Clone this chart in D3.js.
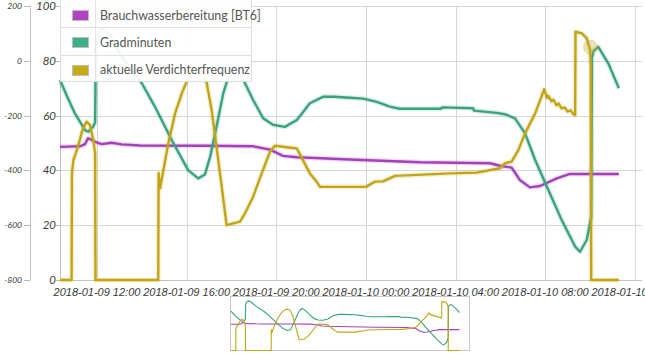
<!DOCTYPE html>
<html>
<head>
<meta charset="utf-8">
<script src="https://cdn.jsdelivr.net/npm/d3@7/dist/d3.min.js"></script>
<style>
  body { margin: 0; background: #fff; }
  svg { display: block; }
  .lbl { font-family: Lato, "Liberation Sans", sans-serif; font-style: italic; fill: #3a3a3a; }
  .xlbl { font-family: "Liberation Sans", Arial, sans-serif; font-style: italic; fill: #3a3a3a; }
  .legend-text { font-family: Lato, "Liberation Sans", sans-serif; font-size: 12.4px; fill: #555; }
</style>
</head>
<body>
<svg id="chart" width="645" height="354"></svg>
<script>
const parse = d3.timeParse("%Y-%m-%d %H:%M");

const timeRange = ["2018-01-09 10:21", "2018-01-10 12:19"];
const innerTicks = [0, 20, 40, 60, 80, 100];
const outerTicks = [-800, -600, -400, -200, 0, 200];
const seriesNames = ["Brauchwasserbereitung [BT6]", "Gradminuten", "aktuelle Verdichterfrequenz"];
const seriesColors = ["#a441b8", "#3aa283", "#c2a516"];
const swatchColors = ["#b043c2", "#3fae8c", "#c9ab12"];

const brauchwasser = [
  ["2018-01-09 10:21", 48.6], ["2018-01-09 11:14", 48.8], ["2018-01-09 11:28", 49.6],
  ["2018-01-09 11:36", 51.7], ["2018-01-09 11:45", 51.2], ["2018-01-09 11:55", 50.4],
  ["2018-01-09 12:13", 49.6], ["2018-01-09 12:39", 50.1], ["2018-01-09 13:06", 49.5],
  ["2018-01-09 13:55", 49.1], ["2018-01-09 16:49", 49.0], ["2018-01-09 18:58", 48.8],
  ["2018-01-09 19:43", 47.6], ["2018-01-09 20:18", 45.3], ["2018-01-09 20:55", 44.8],
  ["2018-01-09 23:17", 44.0], ["2018-01-10 02:25", 43.0], ["2018-01-10 05:32", 42.6],
  ["2018-01-10 05:59", 41.7], ["2018-01-10 06:30", 41.0], ["2018-01-10 06:52", 36.5],
  ["2018-01-10 07:19", 33.8], ["2018-01-10 07:46", 34.3], ["2018-01-10 08:31", 37.1],
  ["2018-01-10 09:06", 38.7], ["2018-01-10 11:17", 38.7]
];

const gradminuten = [
  ["2018-01-09 10:21", -70], ["2018-01-09 10:40", -130], ["2018-01-09 11:01", -192],
  ["2018-01-09 11:28", -253], ["2018-01-09 11:37", -259], ["2018-01-09 11:50", -240],
  ["2018-01-09 11:55", -225], ["2018-01-09 11:57", 60], ["2018-01-09 12:03", 95],
  ["2018-01-09 12:13", 118], ["2018-01-09 12:25", 110], ["2018-01-09 12:40", 80],
  ["2018-01-09 13:00", 30], ["2018-01-09 13:20", -10], ["2018-01-09 13:40", -45],
  ["2018-01-09 14:00", -82], ["2018-01-09 14:35", -167], ["2018-01-09 15:20", -289],
  ["2018-01-09 16:04", -399], ["2018-01-09 16:31", -429], ["2018-01-09 16:49", -415],
  ["2018-01-09 17:03", -350], ["2018-01-09 17:20", -241], ["2018-01-09 17:38", -119],
  ["2018-01-09 17:56", -40], ["2018-01-09 18:09", -21], ["2018-01-09 18:32", -70],
  ["2018-01-09 18:58", -143], ["2018-01-09 19:25", -210], ["2018-01-09 19:52", -234],
  ["2018-01-09 20:23", -241], ["2018-01-09 20:55", -216], ["2018-01-09 21:30", -155],
  ["2018-01-09 22:06", -131], ["2018-01-09 22:33", -131], ["2018-01-09 23:17", -135],
  ["2018-01-09 23:53", -138], ["2018-01-10 00:29", -150], ["2018-01-10 01:04", -167],
  ["2018-01-10 01:31", -175], ["2018-01-10 03:21", -175], ["2018-01-10 03:24", -170],
  ["2018-01-10 04:47", -173], ["2018-01-10 04:49", -182], ["2018-01-10 05:50", -190],
  ["2018-01-10 06:12", -195], ["2018-01-10 06:39", -210], ["2018-01-10 07:06", -265],
  ["2018-01-10 07:33", -362], ["2018-01-10 08:08", -471], ["2018-01-10 08:44", -581],
  ["2018-01-10 09:20", -678], ["2018-01-10 09:33", -697], ["2018-01-10 09:51", -654],
  ["2018-01-10 10:03", -569], ["2018-01-10 10:05", 10], ["2018-01-10 10:09", 35],
  ["2018-01-10 10:22", 51], ["2018-01-10 10:49", -10], ["2018-01-10 11:17", -100]
];

const verdichter = [
  ["2018-01-09 10:21", 0], ["2018-01-09 10:52", 0], ["2018-01-09 10:53", 39],
  ["2018-01-09 10:57", 43.8], ["2018-01-09 11:06", 47.4], ["2018-01-09 11:14", 51.1],
  ["2018-01-09 11:21", 54.7], ["2018-01-09 11:32", 57.8], ["2018-01-09 11:41", 56.6],
  ["2018-01-09 11:50", 51.1], ["2018-01-09 11:55", 46.4], ["2018-01-09 11:56", 0],
  ["2018-01-09 14:44", 0], ["2018-01-09 14:45", 39], ["2018-01-09 14:49", 33.5],
  ["2018-01-09 14:53", 36.5], ["2018-01-09 15:11", 49.9], ["2018-01-09 15:29", 60.8],
  ["2018-01-09 15:47", 68.1], ["2018-01-09 16:00", 72.4], ["2018-01-09 16:15", 75.5],
  ["2018-01-09 16:30", 76.5], ["2018-01-09 16:45", 75], ["2018-01-09 16:54", 71.8],
  ["2018-01-09 17:07", 62], ["2018-01-09 17:20", 48.6], ["2018-01-09 17:34", 34],
  ["2018-01-09 17:47", 20], ["2018-01-09 18:23", 21.3], ["2018-01-09 18:36", 24.3],
  ["2018-01-09 18:58", 30.4], ["2018-01-09 19:21", 38.9], ["2018-01-09 19:43", 46.8],
  ["2018-01-09 19:56", 49], ["2018-01-09 20:55", 48], ["2018-01-09 21:30", 38.9],
  ["2018-01-09 21:48", 35.9], ["2018-01-09 21:57", 34], ["2018-01-10 00:00", 34],
  ["2018-01-10 00:24", 35.9], ["2018-01-10 00:46", 36], ["2018-01-10 01:18", 38],
  ["2018-01-10 03:45", 38.9], ["2018-01-10 04:56", 39.2], ["2018-01-10 05:59", 40.8],
  ["2018-01-10 06:12", 42.6], ["2018-01-10 06:30", 43.2], ["2018-01-10 06:48", 47.4],
  ["2018-01-10 07:06", 53.5], ["2018-01-10 07:33", 60.8], ["2018-01-10 07:50", 66.9],
  ["2018-01-10 07:57", 69.6], ["2018-01-10 08:05", 66.5], ["2018-01-10 08:08", 67.2],
  ["2018-01-10 08:17", 65.2], ["2018-01-10 08:22", 65.8], ["2018-01-10 08:30", 63.8],
  ["2018-01-10 08:36", 64.4], ["2018-01-10 08:44", 62.6], ["2018-01-10 08:52", 63],
  ["2018-01-10 09:00", 61.5], ["2018-01-10 09:08", 61.9], ["2018-01-10 09:15", 60.6],
  ["2018-01-10 09:20", 60.2], ["2018-01-10 09:21", 90.6], ["2018-01-10 09:38", 90],
  ["2018-01-10 09:51", 88.2], ["2018-01-10 10:00", 83.9], ["2018-01-10 10:02", 77.8],
  ["2018-01-10 10:03", 0], ["2018-01-10 11:17", 0]
];

const highlightPoint = ["2018-01-10 10:01", 85];

const plotLeft = 60, plotRight = 642, plotTop = 6, plotBottom = 280;
const outerAxisX = 30;

const svg = d3.select("#chart");

const x = d3.scaleTime()
  .domain(timeRange.map(parse))
  .range([plotLeft, plotRight]);

const yInner = d3.scaleLinear().domain([0, 100]).range([plotBottom, plotTop]);
const yOuter = d3.scaleLinear().domain([-800, 200]).range([plotBottom, plotTop]);

const xTicks = d3.timeHour.every(4).range(x.domain()[0], x.domain()[1]);

// grid
svg.append("g")
  .selectAll("line")
  .data(innerTicks)
  .enter()
  .append("line")
  .attr("x1", plotLeft).attr("x2", plotRight)
  .attr("y1", d => Math.round(yInner(d)) + 0.5)
  .attr("y2", d => Math.round(yInner(d)) + 0.5)
  .attr("stroke", "#d6d6d6");

svg.append("g")
  .selectAll("line")
  .data(xTicks)
  .enter()
  .append("line")
  .attr("x1", d => Math.round(x(d)) + 0.5)
  .attr("x2", d => Math.round(x(d)) + 0.5)
  .attr("y1", plotTop).attr("y2", plotBottom)
  .attr("stroke", "#d6d6d6");

// axis lines
svg.append("line")
  .attr("x1", plotLeft + 0.5).attr("x2", plotLeft + 0.5)
  .attr("y1", plotTop).attr("y2", plotBottom)
  .attr("stroke", "#c4c4c4");
svg.append("line")
  .attr("x1", outerAxisX + 0.5).attr("x2", outerAxisX + 0.5)
  .attr("y1", plotTop).attr("y2", plotBottom)
  .attr("stroke", "#c4c4c4");
svg.append("line")
  .attr("x1", plotLeft).attr("x2", plotRight)
  .attr("y1", plotBottom + 0.5).attr("y2", plotBottom + 0.5)
  .attr("stroke", "#c4c4c4");

// y axis ticks + labels
const innerAxis = svg.append("g");
innerAxis.selectAll("line")
  .data(innerTicks).enter().append("line")
  .attr("x1", plotLeft - 4).attr("x2", plotLeft)
  .attr("y1", d => Math.round(yInner(d)) + 0.5)
  .attr("y2", d => Math.round(yInner(d)) + 0.5)
  .attr("stroke", "#b8b8b8");
innerAxis.selectAll("text")
  .data(innerTicks).enter().append("text")
  .attr("class", "lbl")
  .attr("x", plotLeft - 4)
  .attr("y", d => yInner(d) + 4)
  .attr("text-anchor", "end")
  .style("font-size", "11.5px")
  .text(d => d);

const outerAxis = svg.append("g");
outerAxis.selectAll("line")
  .data(outerTicks).enter().append("line")
  .attr("x1", outerAxisX - 6).attr("x2", outerAxisX)
  .attr("y1", d => Math.round(yOuter(d)) + 0.5)
  .attr("y2", d => Math.round(yOuter(d)) + 0.5)
  .attr("stroke", "#b8b8b8");
outerAxis.selectAll("text")
  .data(outerTicks).enter().append("text")
  .attr("class", "lbl")
  .attr("x", outerAxisX - 8)
  .attr("y", d => yOuter(d) + 3)
  .attr("text-anchor", "end")
  .style("font-size", "8.5px")
  .text(d => d);

// x labels
const fmt = d3.timeFormat("%Y-%m-%d %H:%M");
svg.append("g")
  .selectAll("text")
  .data(xTicks).enter().append("text")
  .attr("class", "xlbl")
  .attr("x", d => x(d))
  .attr("y", 296)
  .attr("text-anchor", "middle")
  .style("font-size", "11px")
  .text(d => fmt(d));

// series
const series = [
  { data: brauchwasser, y: yInner },
  { data: gradminuten, y: yOuter },
  { data: verdichter, y: yInner }
];

series.forEach((s, i) => {
  const line = d3.line()
    .x(d => x(parse(d[0])))
    .y(d => s.y(d[1]));
  svg.append("path")
    .attr("d", line(s.data))
    .attr("fill", "none")
    .attr("stroke", seriesColors[i])
    .attr("stroke-opacity", 0.18)
    .attr("stroke-width", 5)
    .attr("stroke-linejoin", "round");
  svg.append("path")
    .attr("d", line(s.data))
    .attr("fill", "none")
    .attr("stroke", seriesColors[i])
    .attr("stroke-width", 2.4)
    .attr("stroke-linejoin", "round");
});

svg.append("circle")
  .attr("cx", x(parse(highlightPoint[0])))
  .attr("cy", yInner(highlightPoint[1]))
  .attr("r", 7)
  .attr("fill", "#c9ab3a")
  .attr("fill-opacity", 0.35)
  .attr("stroke", "#c9ab3a")
  .attr("stroke-opacity", 0.3);

// legend
const legend = svg.append("g");
const legX = 60.5, legW = 191, rowH = 27.3;
legend.append("rect")
  .attr("x", legX).attr("y", -0.5)
  .attr("width", legW).attr("height", rowH * 3)
  .attr("fill", "#fff").attr("fill-opacity", 0.93)
  .attr("stroke", "#dcdcdc");
legend.append("line")
  .attr("x1", 95.5).attr("x2", 95.5)
  .attr("y1", 0).attr("y2", rowH * 3)
  .attr("stroke", "#e4e4e4");
seriesNames.forEach((name, i) => {
  const top = i * rowH;
  if (i > 0) {
    legend.append("line")
      .attr("x1", legX).attr("x2", legX + legW)
      .attr("y1", Math.round(top) + 0.5).attr("y2", Math.round(top) + 0.5)
      .attr("stroke", "#e0e0e0");
  }
  legend.append("rect")
    .attr("x", 72.5).attr("y", Math.round(top + 10) + 0.5)
    .attr("width", 16).attr("height", 10)
    .attr("fill", swatchColors[i])
    .attr("stroke", "#bdbdbd");
  legend.append("text")
    .attr("class", "legend-text")
    .attr("x", 100)
    .attr("y", top + 19.5)
    .text(name);
});

// range selector
const mmLeft = 231, mmRight = 469, mmTop = 296.5, mmBottom = 350.5;
const xm = x.copy().range([mmLeft, mmRight]);
const ymInner = yInner.copy().range([mmBottom, mmTop]);
const ymOuter = yOuter.copy().range([mmBottom, mmTop]);
const mini = svg.append("g");
mini.append("rect")
  .attr("x", mmLeft - 0.5).attr("y", mmTop)
  .attr("width", mmRight - mmLeft + 1).attr("height", mmBottom - mmTop)
  .attr("fill", "#fff")
  .attr("stroke", "#c8c8c8");
[ymInner, ymOuter, ymInner].forEach((ys, i) => {
  const line = d3.line()
    .x(d => xm(parse(d[0])))
    .y(d => ys(d[1]));
  mini.append("path")
    .attr("d", line(series[i].data))
    .attr("fill", "none")
    .attr("stroke", seriesColors[i])
    .attr("stroke-width", 1.1);
});
</script>
</body>
</html>
